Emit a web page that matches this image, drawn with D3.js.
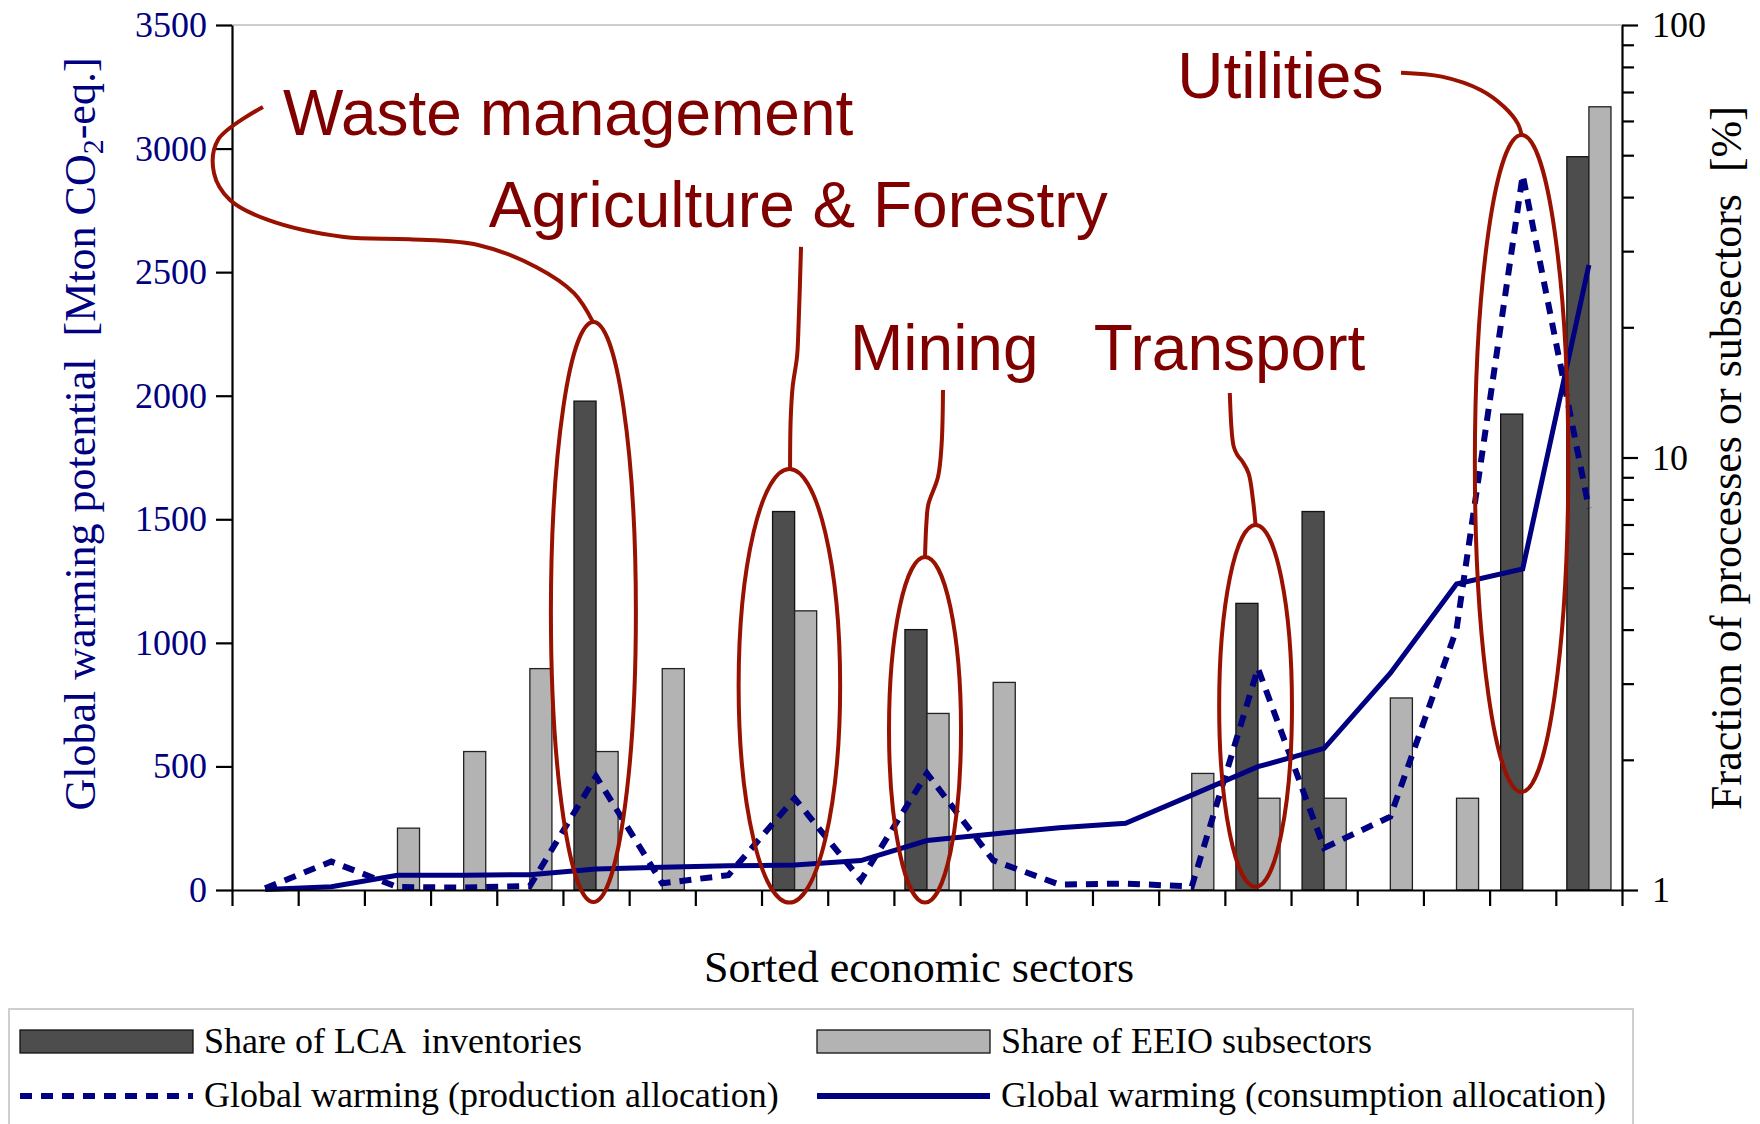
<!DOCTYPE html>
<html>
<head>
<meta charset="utf-8">
<script src="https://cdn.jsdelivr.net/npm/d3@7"></script>
<style>
  body { margin: 0; background: #fff; }
  svg { display: block; }
  .serif { font-family: "Liberation Serif", "Times New Roman", serif; }
  .note { font-family: "Liberation Sans", Arial, sans-serif; fill: #800000; font-size: 64px; }
</style>
</head>
<body>
<svg id="chart" width="1760" height="1124"></svg>
<script>
// sorted economic sectors (21, unlabelled in the figure)
const sectors = ["1", "2", "3", "4", "5", "6", "7", "8", "9", "10", "11",
  "12", "13", "14", "15", "16", "17", "18", "19", "20", "21"];

// share of LCA inventories [%] (right, log axis)
const lcaShare = [null, null, null, null, null, 13.5, null, null, 7.5, null, 4.0,
  null, null, null, null, 4.6, 7.5, null, null, 12.6, 49.6];

// share of EEIO subsectors [%]
const eeioShare = [null, null, 1.39, 2.09, 3.25, 2.09, 3.25, null, 4.42, null, 2.56,
  3.02, null, null, 1.86, 1.63, 1.63, 2.78, 1.63, null, 64.7];

// global warming potential [Mton CO2-eq.] (left axis)
const gwpProduction = [7, 115, 12, 10, 16, 460, 27, 60, 371, 40, 472,
  120, 22, 26, 14, 897, 170, 297, 1055, 2893, 1544];
const gwpConsumption = [2, 13, 60, 60, 62, 85, 92, 98, 101, 119, 200,
  227, 252, 270, 384, 499, 573, 877, 1238, 1299, 2529];

const gwpTicks = [0, 500, 1000, 1500, 2000, 2500, 3000, 3500];
const shareTicks = [1, 2, 3, 4, 5, 6, 7, 8, 9, 10, 20, 30, 40, 50, 60, 70, 80, 90, 100];
const shareLabels = [1, 10, 100];

const legendItems = ["Share of LCA  inventories", "Share of EEIO subsectors",
  "Global warming (production allocation)", "Global warming (consumption allocation)"];

// callouts: positions in sector units (u) and Mton (v)
const callouts = [
  { label: "Waste management", at: [0.77, 3055],
    leader: [[0.468, 3168], [-0.212, 3035], [-0.272, 2901], [-0.03, 2792], [0.544, 2711],
      [1.692, 2642], [2.682, 2633], [3.717, 2610], [4.593, 2521], [5.167, 2415], [5.454, 2298]],
    ring: { u: 5.46, rx: 0.642, top: 2298, bottom: -49 } },
  { label: "Agriculture & Forestry", at: [3.88, 2683],
    leader: [[8.597, 2602], [8.555, 2250], [8.536, 2157], [8.47, 2035], [8.44, 1900], [8.431, 1703]],
    ring: { u: 8.421, rx: 0.767, top: 1703, bottom: -51 } },
  { label: "Mining", at: [9.337, 2104],
    leader: [[10.742, 2023], [10.72, 1800], [10.666, 1671], [10.52, 1560], [10.49, 1480], [10.47, 1347]],
    ring: { u: 10.47, rx: 0.544, top: 1347, bottom: -51 } },
  { label: "Transport", at: [13.02, 2104],
    leader: [[15.075, 2011], [15.133, 1795], [15.19, 1760], [15.27, 1732], [15.36, 1685], [15.425, 1578], [15.464, 1477]],
    ring: { u: 15.464, rx: 0.55, top: 1477, bottom: 13 } },
  { label: "Utilities", at: [14.28, 3204],
    leader: [[17.661, 3307], [18.278, 3291], [18.865, 3237], [19.217, 3169], [19.424, 3102], [19.483, 3055]],
    ring: { u: 19.483, rx: 0.706, top: 3055, bottom: 397 } }
];

const svg = d3.select("#chart");
const plotLeft = 232, plotRight = 1622, plotTop = 25, plotBottom = 890;
const navy = "#000080";
const red = "#991100";

const x = d3.scaleBand().domain(sectors).range([plotLeft, plotRight]).padding(0);
const bw = x.bandwidth();
const u = d3.scaleLinear().domain([0, sectors.length]).range([plotLeft, plotRight]);
const yL = d3.scaleLinear().domain([0, 3500]).range([plotBottom, plotTop]);
const yR = d3.scaleLog().domain([1, 100]).range([plotBottom, plotTop]);

// top frame line
svg.append("line")
  .attr("x1", plotLeft).attr("x2", plotRight).attr("y1", plotTop).attr("y2", plotTop)
  .attr("stroke", "#bdbdbd").attr("stroke-width", 1.5);

// bars
const bars = svg.append("g");
bars.selectAll(".lca")
  .data(sectors.filter((s, i) => lcaShare[i] !== null))
  .join("rect")
  .attr("x", (s) => x(s) + bw / 6)
  .attr("width", bw / 3)
  .attr("y", (s) => yR(lcaShare[sectors.indexOf(s)]))
  .attr("height", (s) => plotBottom - yR(lcaShare[sectors.indexOf(s)]))
  .attr("fill", "#4d4d4d").attr("stroke", "#111").attr("stroke-width", 1.3);

bars.selectAll(".eeio")
  .data(sectors.filter((s, i) => eeioShare[i] !== null))
  .join("rect")
  .attr("x", (s) => x(s) + bw / 2)
  .attr("width", bw / 3)
  .attr("y", (s) => yR(eeioShare[sectors.indexOf(s)]))
  .attr("height", (s) => plotBottom - yR(eeioShare[sectors.indexOf(s)]))
  .attr("fill", "#b3b3b3").attr("stroke", "#222").attr("stroke-width", 1.3);

// lines
const line = d3.line()
  .x((d, i) => x(sectors[i]) + bw / 2)
  .y((d) => yL(d));

svg.append("path")
  .attr("d", line(gwpConsumption))
  .attr("fill", "none").attr("stroke", navy).attr("stroke-width", 5);

svg.append("path")
  .attr("d", line(gwpProduction))
  .attr("fill", "none").attr("stroke", navy).attr("stroke-width", 6)
  .attr("stroke-dasharray", "12,9");

// axes
const axisLeft = svg.append("g")
  .attr("transform", `translate(${plotLeft},0)`)
  .call(d3.axisLeft(yL).tickValues(gwpTicks).tickFormat(d3.format("d"))
    .tickSize(16).tickSizeOuter(0).tickPadding(9));
axisLeft.selectAll("text")
  .attr("class", "serif").attr("font-size", 36).attr("fill", navy).attr("font-family", null);

const axisRight = svg.append("g")
  .attr("transform", `translate(${plotRight},0)`)
  .call(d3.axisRight(yR).tickValues(shareTicks).tickSize(16).tickSizeOuter(0).tickPadding(14)
    .tickFormat((d) => (shareLabels.includes(d) ? d : "")));
axisRight.selectAll(".tick line")
  .attr("x2", (d) => (shareLabels.includes(d) ? 16 : 12));
axisRight.selectAll("text")
  .attr("class", "serif").attr("font-size", 36).attr("fill", "#000").attr("font-family", null);

svg.append("g")
  .attr("transform", `translate(0,${plotBottom})`)
  .call(d3.axisBottom(u).tickValues(d3.range(0, sectors.length + 1)).tickSize(16)
    .tickSizeOuter(0).tickFormat(""));

svg.selectAll(".domain, .tick line").attr("stroke", "#000").attr("stroke-width", 2.2);

// axis titles
const leftTitle = svg.append("text")
  .attr("class", "serif")
  .attr("transform", "translate(95,434) rotate(-90)")
  .attr("text-anchor", "middle")
  .attr("font-size", 44)
  .attr("fill", navy)
  .style("white-space", "pre");
leftTitle.append("tspan").text("Global warming potential  [Mton CO");
leftTitle.append("tspan").attr("dy", 8).attr("font-size", 30).text("2");
leftTitle.append("tspan").attr("dy", -8).text("-eq.]");

svg.append("text")
  .attr("class", "serif")
  .attr("transform", "translate(1741,458) rotate(-90)")
  .attr("text-anchor", "middle")
  .attr("font-size", 44)
  .style("white-space", "pre")
  .text("Fraction of processes or subsectors  [%]");

svg.append("text")
  .attr("class", "serif")
  .attr("x", 919).attr("y", 982)
  .attr("text-anchor", "middle")
  .attr("font-size", 44)
  .text("Sorted economic sectors");

// callouts
const leader = d3.line()
  .x((d) => u(d[0]))
  .y((d) => yL(d[1]))
  .curve(d3.curveCatmullRom.alpha(0.5));

const notes = svg.append("g");
callouts.forEach((c) => {
  const cy = (yL(c.ring.top) + yL(c.ring.bottom)) / 2;
  notes.append("ellipse")
    .attr("cx", u(c.ring.u))
    .attr("cy", cy)
    .attr("rx", c.ring.rx * bw)
    .attr("ry", (yL(c.ring.bottom) - yL(c.ring.top)) / 2)
    .attr("fill", "none").attr("stroke", red).attr("stroke-width", 4);
  notes.append("path")
    .attr("d", leader(c.leader))
    .attr("fill", "none").attr("stroke", red).attr("stroke-width", 4);
  notes.append("text")
    .attr("class", "note")
    .attr("x", u(c.at[0]))
    .attr("y", yL(c.at[1]))
    .text(c.label);
});

// legend
const legend = svg.append("g");
legend.append("rect")
  .attr("x", 9).attr("y", 1009).attr("width", 1624).attr("height", 140)
  .attr("fill", "#fff").attr("stroke", "#cfcfcf").attr("stroke-width", 2);

const cols = [20, 817];
const rows = [1053, 1107];
legendItems.forEach((label, i) => {
  const sx = cols[i % 2];
  const ty = rows[Math.floor(i / 2)];
  if (i < 2) {
    legend.append("rect")
      .attr("x", sx).attr("y", 1030).attr("width", 173).attr("height", 23)
      .attr("fill", i === 0 ? "#4d4d4d" : "#b3b3b3")
      .attr("stroke", "#111").attr("stroke-width", 1.3);
  } else {
    legend.append("line")
      .attr("x1", sx).attr("x2", sx + 173).attr("y1", 1096).attr("y2", 1096)
      .attr("stroke", navy)
      .attr("stroke-width", 6)
      .attr("stroke-dasharray", i === 2 ? "12,9" : null);
  }
  legend.append("text")
    .attr("class", "serif")
    .attr("x", sx + 184).attr("y", ty)
    .attr("font-size", 36)
    .style("white-space", "pre")
    .text(label);
});
</script>
</body>
</html>
